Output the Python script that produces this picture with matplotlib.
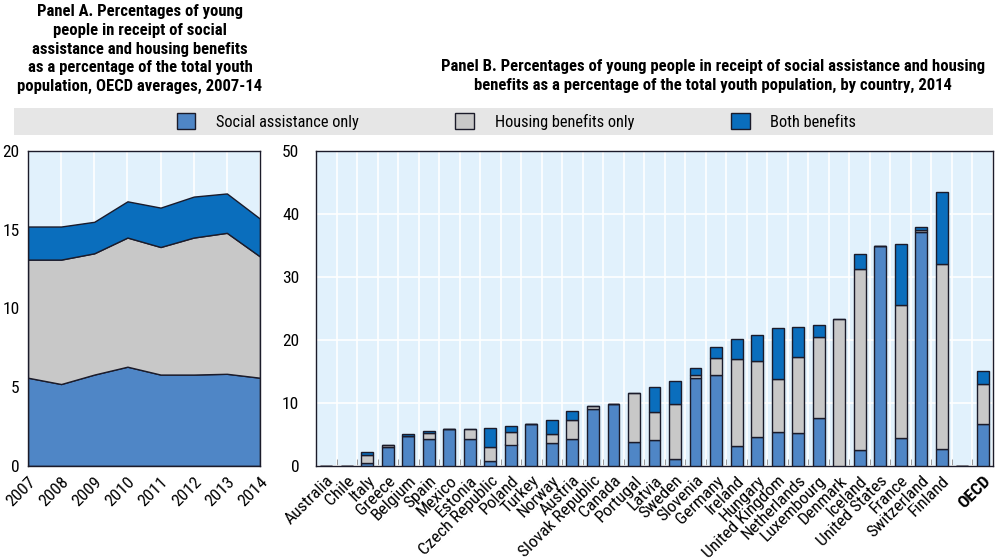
import numpy as np
import matplotlib
matplotlib.use('Agg')
from matplotlib import pyplot as plt
from matplotlib.patches import Patch

# --- Data --- #
years = [2007, 2008, 2009, 2010, 2011, 2012, 2013, 2014]
a_social = [5.6, 5.2, 5.8, 6.3, 5.8, 5.8, 5.85, 5.6]
a_housing = [7.5, 7.9, 7.7, 8.2, 8.1, 8.7, 8.95, 7.7]
a_both = [2.1, 2.1, 2.0, 2.3, 2.5, 2.6, 2.5, 2.4]

countries = ['Australia', 'Chile', 'Italy', 'Greece', 'Belgium', 'Spain', 'Mexico', 'Estonia',
             'Czech Republic', 'Poland', 'Turkey', 'Norway', 'Austria', 'Slovak Republic', 'Canada',
             'Portugal', 'Latvia', 'Sweden', 'Slovenia', 'Germany', 'Ireland', 'Hungary',
             'United Kingdom', 'Netherlands', 'Luxembourg', 'Denmark', 'Iceland', 'United States',
             'France', 'Switzerland', 'Finland', '', 'OECD']
b_social = [0, 0, 0.5, 3.0, 4.7, 4.3, 5.8, 4.3, 0.8, 3.4, 6.6, 3.6, 4.2, 9.1, 9.8, 3.8, 4.1, 1.1,
            14.0, 14.4, 3.1, 4.6, 5.4, 5.3, 7.6, 0, 2.6, 34.9, 4.4, 37.2, 2.7, 0, 6.6]
b_housing = [0, 0, 1.3, 0.3, 0.1, 1.0, 0, 1.5, 2.2, 2.0, 0, 1.5, 3.1, 0.4, 0, 7.8, 4.4, 8.8,
             0.4, 2.7, 13.8, 12.0, 8.4, 12.0, 12.9, 23.3, 28.7, 0, 21.1, 0.3, 29.4, 0, 6.4]
b_both = [0, 0, 0.4, 0.1, 0.2, 0.2, 0, 0, 3.0, 0.9, 0, 2.2, 1.4, 0, 0, 0, 4.1, 3.5,
          1.1, 1.8, 3.2, 4.2, 8.1, 4.8, 1.9, 0, 2.4, 0, 9.8, 0.5, 11.3, 0, 2.1]

labels = ['Social assistance only', 'Housing benefits only', 'Both benefits']
colors = ['#4f86c6', '#c8c8c8', '#0a6ebd']

plt.rcParams['font.family'] = ['Roboto Condensed', 'Archivo Narrow', 'DejaVu Sans']
plt.rcParams['font.size'] = 11

bg = '#e1f1fc'
edge = '#1b1b2a'

fig = plt.figure(figsize=(10, 5.6), dpi=100)

# --- Panel A --- #
axA = fig.add_axes([0.028, 0.168, 0.232, 0.5625])
axA.set_facecolor(bg)
axA.stackplot(years, a_social, a_housing, a_both, colors=colors, edgecolor=edge, linewidth=1, zorder=2)
axA.set_xlim(2007, 2014)
axA.set_ylim(0, 20)
axA.set_yticks([0, 5, 10, 15, 20])
axA.set_xticks(years)
axA.set_xticklabels([str(y) for y in years], rotation=45, ha='right', rotation_mode='anchor', fontsize=12.5)
axA.tick_params(axis='y', labelsize=12.5, direction='in', length=4, color='white', pad=6)
axA.tick_params(axis='x', direction='in', length=4, color='white', pad=6)
axA.grid(True, color='white', linewidth=1.2, zorder=1)
axA.set_axisbelow(True)
for s in axA.spines.values():
    s.set_color(edge)
    s.set_linewidth(1)
    s.set_zorder(3)

fig.text(0.14, 0.992, 'Panel A. Percentages of young\npeople in receipt of social\nassistance and housing benefits\n'
         'as a percentage of the total youth\npopulation, OECD averages, 2007-14',
         ha='center', va='top', fontsize=12, fontweight='bold', linespacing=1.3)

# --- Panel B --- #
axB = fig.add_axes([0.316, 0.168, 0.677, 0.5625])
axB.set_facecolor(bg)
x = np.arange(len(countries))
bottom2 = np.array(b_social) + np.array(b_housing)
axB.bar(x, b_social, width=0.58, color=colors[0], edgecolor=edge, linewidth=1, zorder=3)
axB.bar(x, b_housing, width=0.58, bottom=b_social, color=colors[1], edgecolor=edge, linewidth=1, zorder=3)
axB.bar(x, b_both, width=0.58, bottom=bottom2, color=colors[2], edgecolor=edge, linewidth=1, zorder=3)
axB.set_xlim(-0.5, len(countries) - 0.5)
axB.set_ylim(0, 50)
axB.set_yticks([0, 10, 20, 30, 40, 50])
axB.tick_params(axis='y', labelsize=12.5, length=0, pad=12)
axB.set_xticks(x)
axB.set_xticklabels(countries, rotation=45, ha='right', rotation_mode='anchor', fontsize=12.5)
axB.get_xticklabels()[-1].set_fontweight('bold')
axB.tick_params(axis='x', length=0, pad=5)
axB.set_xticks(np.arange(len(countries) + 1) - 0.5, minor=True)
axB.tick_params(axis='x', which='minor', direction='in', length=5, color='#888888')
axB.grid(True, axis='y', color='white', linewidth=1.2, zorder=0)
axB.grid(True, axis='x', which='minor', color='white', linewidth=1.2, zorder=0)
axB.set_axisbelow(True)
for s in axB.spines.values():
    s.set_color(edge)
    s.set_linewidth(1)

fig.text(0.713, 0.895, 'Panel B. Percentages of young people in receipt of social assistance and housing\n'
         'benefits as a percentage of the total youth population, by country, 2014',
         ha='center', va='top', fontsize=12, fontweight='bold', linespacing=1.35)

# --- Legend band --- #
axL = fig.add_axes([0.014, 0.759, 0.979, 0.048])
axL.set_facecolor('#e6e6e6')
axL.set_xticks([])
axL.set_yticks([])
for s in axL.spines.values():
    s.set_visible(False)
handles = [Patch(facecolor=c, edgecolor=edge, linewidth=1) for c in colors]
axL.legend(handles, labels, ncol=3, loc='center left', bbox_to_anchor=(0.166, 0.5), frameon=False,
           fontsize=11.8, columnspacing=5.9, handlelength=1.15, handleheight=1.1, handletextpad=1.25,
           borderpad=0, borderaxespad=0)

fig.savefig('out.png', dpi=100)
